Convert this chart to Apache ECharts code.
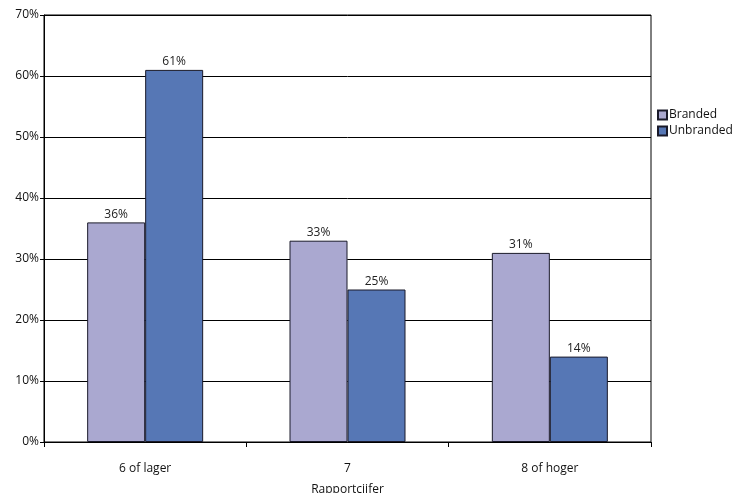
<!DOCTYPE html>
<html>
<head>
<meta charset="utf-8">
<script src="https://cdn.jsdelivr.net/npm/echarts@6/dist/echarts.min.js"></script>
<style>
  html, body { margin: 0; padding: 0; background: #fff; }
  #chart { width: 739px; height: 493px; }
</style>
</head>
<body>
<div id="chart"></div>
<script>
// data
const categories = ['6 of lager', '7', '8 of hoger'];
const branded = [36, 33, 31];
const unbranded = [61, 25, 14];
const seriesNames = ['Branded', 'Unbranded'];

const chart = echarts.init(document.getElementById('chart'));

const labelStyle = {
  show: true,
  position: 'top',
  distance: 2,
  formatter: '{c}%',
  color: '#222',
  fontSize: 12,
  fontFamily: 'Open Sans'
};

const option = {
  animation: false,
  textStyle: { fontFamily: 'Open Sans' },
  grid: {
    left: 44,
    right: 88,
    top: 15,
    bottom: 51,
    outerBoundsMode: 'none',
    show: true,
    borderColor: '#000',
    borderWidth: 1
  },
  legend: {
    orient: 'vertical',
    left: 652,
    top: 104,
    itemWidth: 9,
    itemHeight: 9,
    itemGap: 4,
    icon: 'rect',
    textStyle: { fontSize: 12, color: '#111', padding: [0, 0, 0, -3] },
    data: seriesNames
  },
  xAxis: {
    type: 'category',
    data: categories,
    name: 'Rapportcijfer',
    nameLocation: 'middle',
    nameGap: 42,
    nameTextStyle: { fontSize: 12, color: '#111' },
    axisLine: { lineStyle: { color: '#000', width: 1 } },
    axisTick: { show: true, length: 5, lineStyle: { color: '#000' } },
    axisLabel: { fontSize: 12, color: '#111', margin: 21 }
  },
  yAxis: {
    type: 'value',
    min: 0,
    max: 70,
    interval: 10,
    axisLine: { show: true, lineStyle: { color: '#000', width: 1 } },
    axisTick: { show: true, length: 4, lineStyle: { color: '#000' } },
    axisLabel: { formatter: '{value}%', fontSize: 12, color: '#111', margin: 5 },
    splitLine: { show: true, lineStyle: { color: '#000', width: 1 } }
  },
  series: [
    {
      name: seriesNames[0],
      type: 'bar',
      data: branded,
      barWidth: 58,
      barGap: '0%',
      itemStyle: { color: '#aaa8d0', borderColor: '#1a1a2a', borderWidth: 1 },
      label: labelStyle
    },
    {
      name: seriesNames[1],
      type: 'bar',
      data: unbranded,
      barWidth: 58,
      barGap: '0%',
      itemStyle: { color: '#5677b5', borderColor: '#1a1a2a', borderWidth: 1 },
      label: labelStyle
    }
  ]
};

chart.setOption(option);
</script>
</body>
</html>
